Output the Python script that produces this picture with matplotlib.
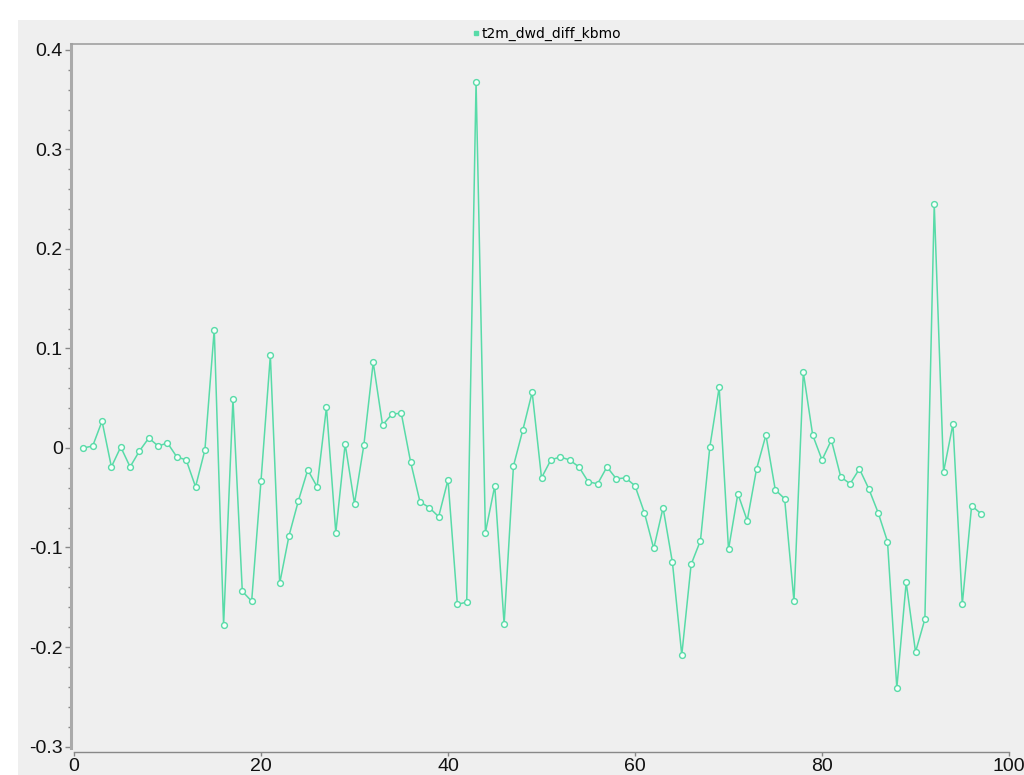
import matplotlib.pyplot as plt
from matplotlib.lines import Line2D
from matplotlib.patches import Rectangle
from matplotlib.ticker import MultipleLocator, FuncFormatter

# series values (index 1..97)
steps = list(range(1, 98))
t2m_dwd_diff_kbmo = [
    0.000, 0.002, 0.027, -0.019, 0.001, -0.019, -0.003, 0.010, 0.002, 0.005,
    -0.009, -0.012, -0.039, -0.002, 0.119, -0.178, 0.049, -0.144, -0.154, -0.033,
    0.093, -0.136, -0.088, -0.053, -0.022, -0.039, 0.041, -0.085, 0.004, -0.056,
    0.003, 0.086, 0.023, 0.034, 0.035, -0.014, -0.054, -0.060, -0.069, -0.032,
    -0.157, -0.155, 0.368, -0.085, -0.038, -0.177, -0.018, 0.018, 0.056, -0.030,
    -0.012, -0.009, -0.012, -0.019, -0.034, -0.036, -0.019, -0.031, -0.030, -0.038,
    -0.065, -0.101, -0.060, -0.115, -0.208, -0.117, -0.093, 0.001, 0.061, -0.102,
    -0.046, -0.073, -0.021, 0.013, -0.042, -0.051, -0.154, 0.076, 0.013, -0.012,
    0.008, -0.029, -0.036, -0.021, -0.041, -0.065, -0.094, -0.241, -0.135, -0.205,
    -0.172, 0.245, -0.024, 0.024, -0.157, -0.058, -0.066,
]
series_name = 't2m_dwd_diff_kbmo'

plt.rcParams['font.family'] = ['Liberation Sans', 'DejaVu Sans']

line_col = '#58dba8'
axis_col = '#a0a0a0'
panel_col = '#efefef'

fig = plt.figure(figsize=(10.24, 7.75), dpi=100)
fig.patch.set_facecolor('white')
panel = Rectangle((18 / 1024, 0), 1 - 18 / 1024, 1 - 20 / 775,
                  transform=fig.transFigure, facecolor=panel_col,
                  edgecolor='none', zorder=-10)
fig.add_artist(panel)

ax = fig.add_axes([71 / 1024, 1 - 748 / 775, 1 - 71 / 1024, (748 - 44) / 775])
ax.set_facecolor(panel_col)

ax.plot(steps, t2m_dwd_diff_kbmo, color=line_col, lw=1.1, marker='o', markersize=4.2,
        markerfacecolor='#f7fffb', markeredgecolor=line_col, markeredgewidth=1.0,
        clip_on=False)

ax.set_xlim(-0.32, 101.6)
ax.set_ylim(-0.3015, 0.406)

ax.spines['right'].set_visible(False)
ax.spines['top'].set_color(axis_col)
ax.spines['top'].set_linewidth(1.2)
ax.spines['left'].set_color('#aaaaaa')
ax.spines['left'].set_linewidth(2.2)
ax.spines['bottom'].set_color('#888888')
ax.spines['bottom'].set_linewidth(1.0)
ax.spines['bottom'].set_position(('outward', 3))
ax.spines['bottom'].set_bounds(0, 100)

ax.xaxis.set_major_locator(MultipleLocator(20))
ax.yaxis.set_major_locator(MultipleLocator(0.1))
ax.yaxis.set_minor_locator(MultipleLocator(0.02))
ax.yaxis.set_major_formatter(FuncFormatter(lambda v, p: f'{round(v, 2):g}'))

ax.tick_params(axis='y', which='major', length=4, width=1, color='#888888',
               labelsize=14, pad=2, labelcolor='#111111')
ax.tick_params(axis='y', which='minor', length=2.5, width=1, color='#888888')
ax.tick_params(axis='x', which='major', length=3, width=1, color='#888888',
               labelsize=14, pad=1, labelcolor='#111111')

handle = Line2D([], [], color=line_col, marker='s', markersize=3, linestyle='none')
ax.legend([handle], [series_name], loc='lower center', bbox_to_anchor=(0.5, 0.994),
          frameon=False, handlelength=0.4, handletextpad=0.2, borderaxespad=0.1,
          prop={'family': 'DejaVu Sans', 'size': 10})

plt.savefig('out.png', dpi=100, facecolor='white')
